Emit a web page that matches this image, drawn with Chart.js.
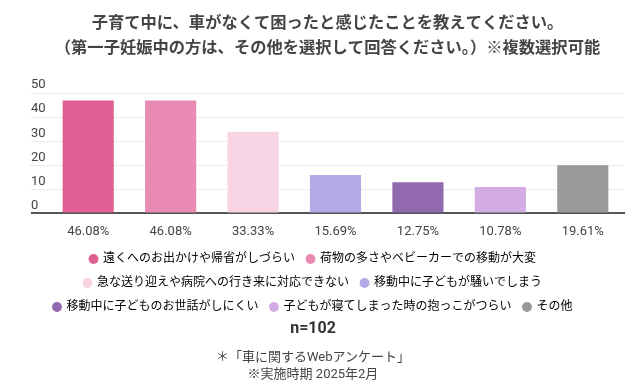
<!DOCTYPE html>
<html lang="ja">
<head>
<meta charset="utf-8">
<script src="https://cdn.jsdelivr.net/npm/chart.js@4"></script>
<style>
  body { margin: 0; background: #fff; font-family: Roboto, "Noto Sans CJK JP", sans-serif; }
  #wrap { position: relative; width: 640px; height: 392px; }
  .foot { position: absolute; left: 0; width: 626px; text-align: center; color: #444; }
  #n { top: 318px; font-size: 16px; font-weight: bold; color: #333; }
  #src1 { top: 346px; font-size: 13px; }
  #src2 { top: 363px; font-size: 13px; }
</style>
</head>
<body>
<div id="wrap">
  <canvas id="chart"></canvas>
  <div class="foot" id="n">n=102</div>
  <div class="foot" id="src1">＊「車に関するWebアンケート」</div>
  <div class="foot" id="src2">※実施時期 2025年2月</div>
</div>
<script>
const titleLines = [
  "子育て中に、車がなくて困ったと感じたことを教えてください。",
  "（第一子妊娠中の方は、その他を選択して回答ください。）※複数選択可能"
];
const itemNames = [
  "遠くへのお出かけや帰省がしづらい",
  "荷物の多さやベビーカーでの移動が大変",
  "急な送り迎えや病院への行き来に対応できない",
  "移動中に子どもが騒いでしまう",
  "移動中に子どものお世話がしにくい",
  "子どもが寝てしまった時の抱っこがつらい",
  "その他"
];
const percentLabels = ["46.08%", "46.08%", "33.33%", "15.69%", "12.75%", "10.78%", "19.61%"];
const counts = [47, 47, 34, 16, 13, 11, 20];
const barColors = ["#df5f93", "#e88ab2", "#f7d3e4", "#b3a9e6", "#9269af", "#d3ace6", "#999999"];
const yTicks = [0, 10, 20, 30, 40, 50];

const fontFamily = 'Roboto, "Noto Sans CJK JP", sans-serif';

// legend is centred on the whole page, not on the plot area
const centerLegend = {
  id: "centerLegend",
  afterLayout(chart) {
    chart.legend.left = 0;
    chart.legend.right = 626;
    chart.legend.width = 626;
  }
};

new Chart(document.getElementById("chart"), {
  type: "bar",
  data: {
    labels: percentLabels,
    datasets: [{
      data: counts,
      backgroundColor: barColors,
      categoryPercentage: 1,
      barPercentage: 0.62
    }]
  },
  plugins: [centerLegend],
  options: {
    responsive: true,
    maintainAspectRatio: false,
    animation: false,
    layout: { padding: { left: 31, right: 16, top: 0, bottom: 69 } },
    plugins: {
      title: {
        display: true,
        text: titleLines,
        color: "#444",
        font: { family: fontFamily, size: 16.3, weight: "bold", lineHeight: 1.57 },
        padding: { top: 11, bottom: 31 }
      },
      legend: {
        position: "bottom",
        labels: {
          usePointStyle: true,
          pointStyle: "circle",
          boxWidth: 7,
          boxHeight: 7,
          padding: 12,
          color: "#555",
          font: { family: fontFamily, size: 12 },
          generateLabels: () => itemNames.map((name, i) => ({
            text: name,
            fillStyle: barColors[i],
            strokeStyle: barColors[i],
            lineWidth: 0,
            pointStyle: "circle",
            hidden: false,
            index: i
          }))
        },
        onClick: () => {}
      },
      tooltip: { enabled: false }
    },
    scales: {
      x: {
        afterFit: scale => { scale.height -= 10; },
        grid: { display: false, drawTicks: false },
        border: { color: "#555", width: 2 },
        ticks: {
          padding: 11,
          color: "#444",
          font: { family: fontFamily, size: 13 }
        }
      },
      y: {
        min: 0,
        max: 50,
        afterFit: scale => { scale.width = 16; },
        afterBuildTicks: scale => { scale.ticks = yTicks.map(v => ({ value: v })); },
        border: { display: false },
        grid: {
          tickLength: 16,
          color: ctx => ctx.tick && ctx.tick.value === 0 ? "#555" : "#ebebeb",
          lineWidth: ctx => ctx.tick && ctx.tick.value === 0 ? 2 : 1
        },
        ticks: {
          crossAlign: "far",
          labelOffset: -8,
          padding: 0,
          color: "#444",
          font: { family: fontFamily, size: 13 }
        }
      }
    }
  }
});
</script>
</body>
</html>
